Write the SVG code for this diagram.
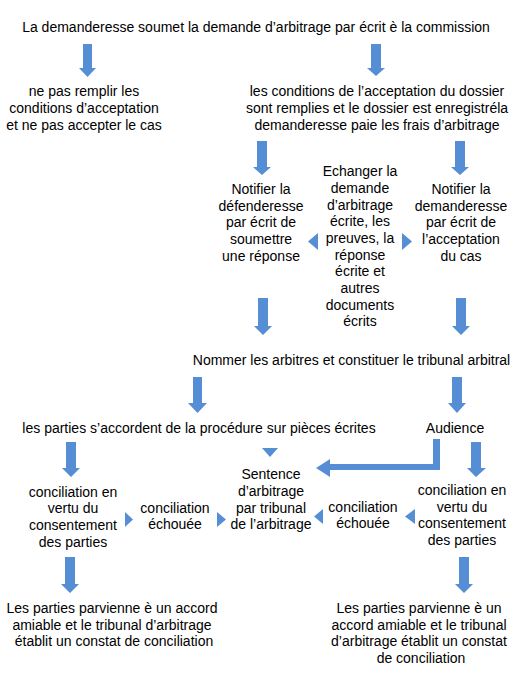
<svg xmlns="http://www.w3.org/2000/svg" width="514" height="700" viewBox="0 0 514 700">
<style>
text{font-family:"Liberation Sans",Arial,sans-serif;font-size:14px;fill:#000;text-anchor:middle}
.a{fill:#558ED5}
</style>
<rect width="514" height="700" fill="#fff"/>
<g id="connectors">
<polygon class="a" points="83,44 92,44 92,68 96,68 87.5,77 79,68 83,68"/>
<polygon class="a" points="371,44 381,44 381,68 385,68 376,76 367,68 371,68"/>
<polygon class="a" points="257,141 267,141 267,167 271,167 262,175 253,167 257,167"/>
<polygon class="a" points="455,141 465,141 465,167 469,167 460,175 451,167 455,167"/>
<polygon class="a" points="258,298 268,298 268,326 272,326 263,335 254,326 258,326"/>
<polygon class="a" points="456,298 466,298 466,326 470,326 461,335 452,326 456,326"/>
<polygon class="a" points="193,377 202,377 202,403 207,403 197.5,413 188,403 193,403"/>
<polygon class="a" points="452,377 462,377 462,403 466,403 457,413 448,403 452,403"/>
<polygon class="a" points="262,448 278,448 270,457"/>
<polygon class="a" points="66,442 76,442 76,468 80,468 71,477 62,468 66,468"/>
<polygon class="a" points="471,442 481,442 481,468 486,468 476,477 467,468 471,468"/>
<polygon class="a" points="433,439 440,439 440,470 330,470 330,477 316,468 330,459 330,464 433,464"/>
<polygon class="a" points="318,233 318,250 308,241.5"/>
<polygon class="a" points="402,233 402,250 412,241.5"/>
<polygon class="a" points="125,512 125,527 133,519.5"/>
<polygon class="a" points="217,512 217,527 226,519.5"/>
<polygon class="a" points="323,509 323,524 314,516.5"/>
<polygon class="a" points="415,509 415,524 405,516.5"/>
<polygon class="a" points="65,557 75,557 75,584 79,584 70,593 61,584 65,584"/>
<polygon class="a" points="459,557 469,557 469,584 473,584 464,593 455,584 459,584"/>
</g>
<g id="n-soumet"><text x="256" y="32">La demanderesse soumet la demande d’arbitrage par écrit è la commission</text></g>
<g id="n-refus"><text x="84" y="96">ne pas remplir les</text><text x="84" y="113">conditions d’acceptation</text><text x="84" y="130">et ne pas accepter le cas</text></g>
<g id="n-accept"><text x="377" y="96">les conditions de l’acceptation du dossier</text><text x="377" y="113">sont remplies et le dossier est enregistréla</text><text x="377" y="130">demanderesse paie les frais d’arbitrage</text></g>
<g id="n-notif-def"><text x="261" y="194">Notifier la</text><text x="261" y="211">défenderesse</text><text x="261" y="227">par écrit de</text><text x="261" y="244">soumettre</text><text x="261" y="261">une réponse</text></g>
<g id="n-echanger"><text x="360" y="176">Echanger la</text><text x="360" y="193">demande</text><text x="360" y="210">d’arbitrage</text><text x="360" y="226">écrite, les</text><text x="360" y="243">preuves, la</text><text x="360" y="260">réponse</text><text x="360" y="276">écrite et</text><text x="360" y="293">autres</text><text x="360" y="310">documents</text><text x="360" y="326">écrits</text></g>
<g id="n-notif-dem"><text x="461" y="194">Notifier la</text><text x="461" y="211">demanderesse</text><text x="461" y="227">par écrit de</text><text x="461" y="244">l’acceptation</text><text x="461" y="261">du cas</text></g>
<g id="n-nommer"><text x="351.5" y="365">Nommer les arbitres et constituer le tribunal arbitral</text></g>
<g id="n-pieces"><text x="199" y="433">les parties s’accordent de la procédure sur pièces écrites</text></g>
<g id="n-audience"><text x="455" y="433">Audience</text></g>
<g id="n-concil-l"><text x="73" y="497">conciliation en</text><text x="73" y="513">vertu du</text><text x="73" y="530">consentement</text><text x="73" y="547">des parties</text></g>
<g id="n-echec-l"><text x="175" y="513">conciliation</text><text x="175" y="529">échouée</text></g>
<g id="n-sentence"><text x="271" y="479">Sentence</text><text x="271" y="496">d’arbitrage</text><text x="271" y="513">par tribunal</text><text x="271" y="529">de l’arbitrage</text></g>
<g id="n-echec-r"><text x="363" y="512">conciliation</text><text x="363" y="528">échouée</text></g>
<g id="n-concil-r"><text x="462" y="495">conciliation en</text><text x="462" y="512">vertu du</text><text x="462" y="528">consentement</text><text x="462" y="545">des parties</text></g>
<g id="n-accord-l"><text x="112" y="613">Les parties parvienne è un accord</text><text x="112" y="630">amiable et le tribunal d’arbitrage</text><text x="114" y="646">établit un constat de conciliation</text></g>
<g id="n-accord-r"><text x="419" y="613">Les parties parvienne è un</text><text x="419" y="630">accord amiable et le tribunal</text><text x="419" y="646">d’arbitrage établit un constat</text><text x="421" y="663">de conciliation</text></g>
</svg>
